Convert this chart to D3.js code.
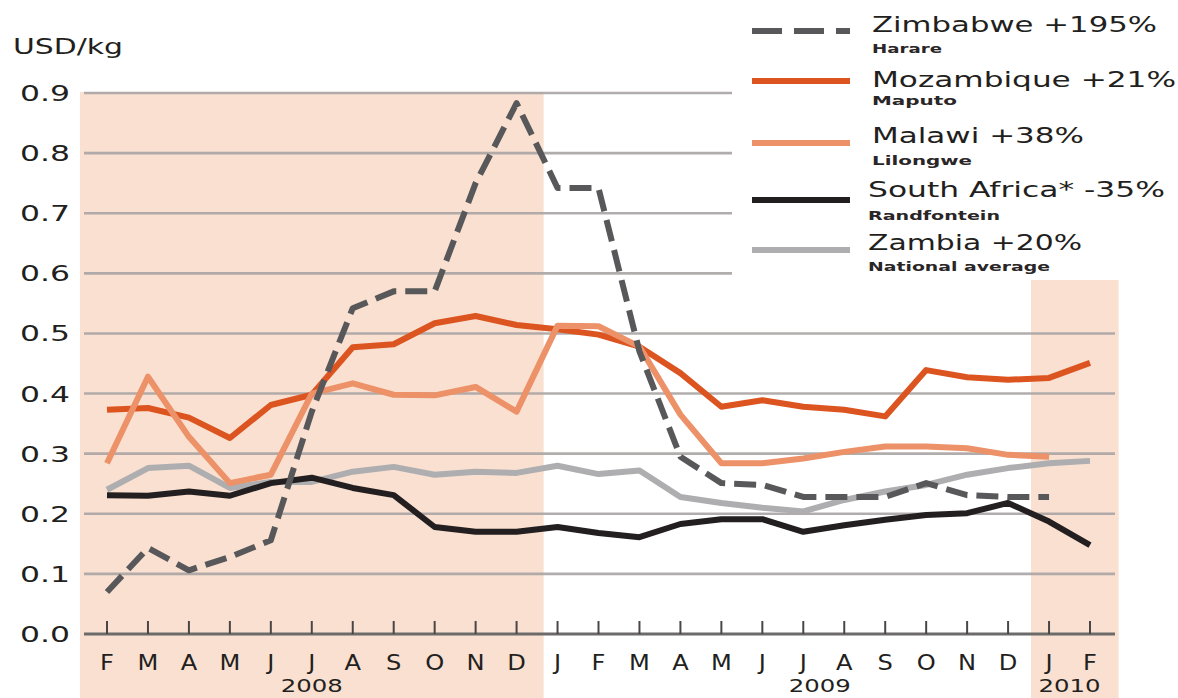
<!DOCTYPE html>
<html>
<head>
<meta charset="utf-8">
<script src="https://cdn.jsdelivr.net/npm/d3@7"></script>
<style>
  html, body { margin: 0; padding: 0; background: #fff; }
  svg { display: block; font-family: "DejaVu Sans", sans-serif; }
</style>
</head>
<body>
<div id="chart"></div>
<script>
var width = 1178,
    height = 698;

// month ticks, Feb 2008 .. Feb 2010
var months = ["F","M","A","M","J","J","A","S","O","N","D","J","F","M","A","M","J","J","A","S","O","N","D","J","F"];
var yearLabels = ["2008", "2009", "2010"];
var yearPos = [5, 17.4, 23.5];
var yTicks = [0, 0.1, 0.2, 0.3, 0.4, 0.5, 0.6, 0.7, 0.8, 0.9];

// USD/kg per month
var zimbabwe = [0.07,0.143,0.106,0.128,0.156,0.37,0.542,0.57,0.57,0.75,0.883,0.742,0.742,0.47,0.295,0.251,0.248,0.228,0.228,0.228,0.251,0.231,0.228,0.228,null];
var mozambique = [0.373,0.376,0.36,0.326,0.381,0.398,0.477,0.482,0.517,0.529,0.514,0.507,0.498,0.478,0.434,0.378,0.389,0.378,0.373,0.362,0.439,0.427,0.423,0.426,0.451];
var malawi = [0.284,0.428,0.328,0.251,0.265,0.40,0.417,0.398,0.397,0.411,0.37,0.513,0.512,0.478,0.365,0.284,0.284,0.292,0.303,0.312,0.312,0.309,0.298,0.295,null];
var southAfrica = [0.231,0.23,0.237,0.23,0.251,0.26,0.243,0.231,0.178,0.17,0.17,0.178,0.168,0.161,0.183,0.191,0.191,0.17,0.181,0.19,0.198,0.201,0.218,0.187,0.148];
var zambia = [0.24,0.276,0.28,0.243,0.253,0.253,0.27,0.278,0.265,0.27,0.268,0.28,0.266,0.272,0.228,0.218,0.21,0.204,0.223,0.237,0.248,0.265,0.276,0.284,0.288];

var seriesNames = ["Zimbabwe +195%", "Mozambique +21%", "Malawi +38%", "South Africa* -35%", "Zambia +20%"];
var seriesPlaces = ["Harare", "Maputo", "Lilongwe", "Randfontein", "National average"];

var series = [
  { name: seriesNames[0], place: seriesPlaces[0], values: zimbabwe, color: "#58585a", dash: "22,9", legDash: "30,12", order: 4 },
  { name: seriesNames[1], place: seriesPlaces[1], values: mozambique, color: "#dc5420", dash: null, order: 2 },
  { name: seriesNames[2], place: seriesPlaces[2], values: malawi, color: "#ec9168", dash: null, order: 3 },
  { name: seriesNames[3], place: seriesPlaces[3], values: southAfrica, color: "#231f20", dash: null, order: 1 },
  { name: seriesNames[4], place: seriesPlaces[4], values: zambia, color: "#aeaeb0", dash: null, order: 0 }
];

var x = d3.scaleLinear().domain([0, months.length - 1]).range([107, 1090]);
var y = d3.scaleLinear().domain([0, 0.9]).range([634, 93]);

var svg = d3.select("#chart").append("svg")
    .attr("width", width)
    .attr("height", height);

// shaded periods (2008 and early 2010)
var shade = "#f9e0d0";
svg.append("rect")
  .attr("x", x(-0.66)).attr("y", y(0.9) - 1)
  .attr("width", x(10.66) - x(-0.66))
  .attr("height", height - y(0.9) + 1)
  .attr("fill", shade);
svg.append("rect")
  .attr("x", x(22.56)).attr("y", y(0.589))
  .attr("width", x(24.7) - x(22.56))
  .attr("height", height - y(0.589))
  .attr("fill", shade);

// gridlines; upper ones stop short of the legend
svg.append("g")
  .selectAll("line")
  .data(yTicks.filter(function(d) { return d > 0; }))
  .enter().append("line")
  .attr("x1", 84)
  .attr("x2", function(d) { return d >= 0.6 ? 732 : 1115; })
  .attr("y1", function(d) { return y(d); })
  .attr("y2", function(d) { return y(d); })
  .attr("stroke", "#a8a4a3")
  .attr("stroke-opacity", 0.9)
  .attr("stroke-width", 2.6);

// y labels
svg.append("g")
  .selectAll("text")
  .data(yTicks)
  .enter().append("text")
  .attr("x", 70)
  .attr("y", function(d) { return y(d) + 8; })
  .attr("text-anchor", "end")
  .attr("font-size", 22)
  .attr("fill", "#231f20")
  .attr("textLength", 50)
  .attr("lengthAdjust", "spacingAndGlyphs")
  .text(function(d) { return d3.format(".1f")(d); });

svg.append("text")
  .attr("x", 13).attr("y", 54)
  .attr("font-size", 22)
  .attr("fill", "#231f20")
  .attr("textLength", 110)
  .attr("lengthAdjust", "spacingAndGlyphs")
  .text("USD/kg");

// x axis line + ticks
svg.append("line")
  .attr("x1", 84).attr("x2", 1115)
  .attr("y1", y(0)).attr("y2", y(0))
  .attr("stroke", "#6d6a6a")
  .attr("stroke-width", 3);

svg.append("g")
  .selectAll("line")
  .data(months)
  .enter().append("line")
  .attr("x1", function(d, i) { return x(i); })
  .attr("x2", function(d, i) { return x(i); })
  .attr("y1", y(0) - 13)
  .attr("y2", y(0))
  .attr("stroke", "#4a4646")
  .attr("stroke-width", 2);

svg.append("g")
  .selectAll("text")
  .data(months)
  .enter().append("text")
  .attr("x", function(d, i) { return x(i); })
  .attr("y", 670)
  .attr("text-anchor", "middle")
  .attr("font-size", 21)
  .attr("fill", "#231f20")
  .attr("transform", function(d, i) { return "translate(" + x(i) + ",0) scale(1.15,1) translate(" + (-x(i)) + ",0)"; })
  .text(function(d) { return d; });

svg.append("g")
  .selectAll("text")
  .data(yearLabels)
  .enter().append("text")
  .attr("x", function(d, i) { return x(yearPos[i]); })
  .attr("y", 692)
  .attr("text-anchor", "middle")
  .attr("font-size", 17)
  .attr("fill", "#231f20")
  .attr("textLength", 62)
  .attr("lengthAdjust", "spacingAndGlyphs")
  .text(function(d) { return d; });

// lines
var line = d3.line()
  .defined(function(d) { return d != null; })
  .x(function(d, i) { return x(i); })
  .y(function(d) { return y(d); });

svg.append("g")
  .selectAll("path")
  .data(series.slice().sort(function(a, b) { return a.order - b.order; }))
  .enter().append("path")
  .attr("d", function(d) { return line(d.values); })
  .attr("fill", "none")
  .attr("stroke", function(d) { return d.color; })
  .attr("stroke-width", 6)
  .attr("stroke-linejoin", "round")
  .attr("stroke-dasharray", function(d) { return d.dash; });

// legend
var legY = [31, 81, 143, 200, 250];
var titleBase = [32, 87, 143, 197, 250];
var placeBase = [53, 105, 165, 220, 271];
var titleLen = [285, 304, 212, 297, 214];
var placeLen = [70, 85, 100, 132, 182];
var titleX = [872, 872, 872, 868, 868];

var leg = svg.append("g");
series.forEach(function(s, i) {
  leg.append("line")
    .attr("x1", 752).attr("x2", 850)
    .attr("y1", legY[i]).attr("y2", legY[i])
    .attr("stroke", s.color)
    .attr("stroke-width", 6)
    .attr("stroke-dasharray", s.legDash || null);
  leg.append("text")
    .attr("x", titleX[i]).attr("y", titleBase[i])
    .attr("font-size", 22)
    .attr("fill", "#231f20")
    .attr("textLength", titleLen[i])
    .attr("lengthAdjust", "spacingAndGlyphs")
    .text(s.name);
  leg.append("text")
    .attr("x", titleX[i]).attr("y", placeBase[i])
    .attr("font-size", 13)
    .attr("font-weight", "bold")
    .attr("fill", "#2a2627")
    .attr("textLength", placeLen[i])
    .attr("lengthAdjust", "spacingAndGlyphs")
    .text(s.place);
});
</script>
</body>
</html>
